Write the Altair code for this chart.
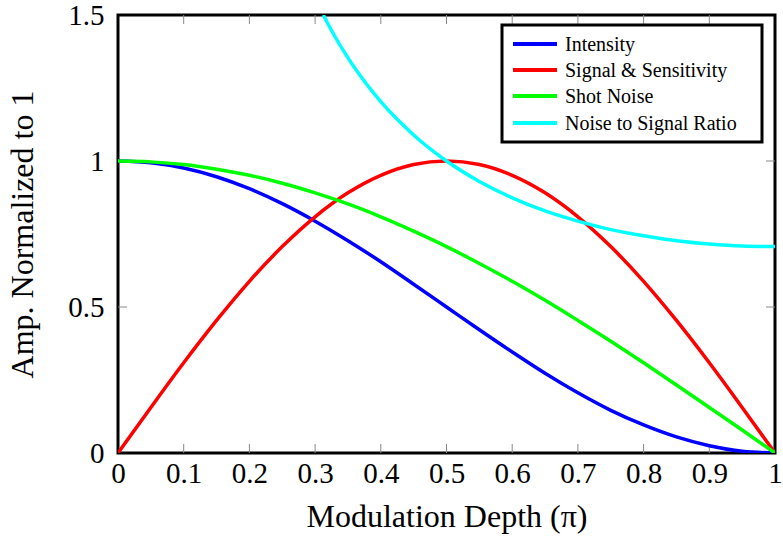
import altair as alt
import pandas as pd

# ---- data ----
x_vals = [0, 0.05, 0.1, 0.15, 0.2, 0.25, 0.3, 0.35, 0.4, 0.45, 0.5,
          0.55, 0.6, 0.65, 0.7, 0.75, 0.8, 0.85, 0.9, 0.95, 1.0]
intensity = [1.0, 0.994, 0.976, 0.946, 0.905, 0.854, 0.794, 0.727, 0.655, 0.578, 0.5,
             0.422, 0.346, 0.273, 0.206, 0.146, 0.096, 0.055, 0.025, 0.006, 0.0]
signal = [0.0, 0.156, 0.309, 0.454, 0.588, 0.707, 0.809, 0.891, 0.951, 0.988, 1.0,
          0.988, 0.951, 0.891, 0.809, 0.707, 0.588, 0.454, 0.309, 0.156, 0.0]
shot_noise = [1.0, 0.997, 0.988, 0.972, 0.951, 0.924, 0.891, 0.853, 0.809, 0.760, 0.707,
              0.649, 0.588, 0.523, 0.454, 0.383, 0.309, 0.233, 0.156, 0.079, 0.0]
nsr_x = [0.3125, 0.325, 0.35, 0.375, 0.4, 0.45, 0.5, 0.55, 0.6, 0.65, 0.7,
         0.75, 0.8, 0.85, 0.9, 0.95, 1.0]
nsr = [1.5, 1.447, 1.353, 1.273, 1.203, 1.089, 1.0, 0.930, 0.874, 0.829, 0.794,
       0.765, 0.744, 0.727, 0.716, 0.709, 0.707]

series_names = ["Intensity", "Signal & Sensitivity", "Shot Noise", "Noise to Signal Ratio"]
series_colors = ["#0000ff", "#ff0000", "#00ff00", "#00ffff"]

x_ticks = [0, 0.1, 0.2, 0.3, 0.4, 0.5, 0.6, 0.7, 0.8, 0.9, 1.0]
y_ticks = [0, 0.5, 1.0, 1.5]

W, H = 657, 438
FONT = "'Liberation Serif', 'DejaVu Serif', serif"

xscale = alt.Scale(domain=[0, 1], nice=False, zero=False)
yscale = alt.Scale(domain=[0, 1.5], nice=False)

x_axis = alt.Axis(values=x_ticks, format=".1~f", ticks=False, domain=False,
                  grid=False, labelFont=FONT, labelFontSize=29,
                  labelPadding=6, labelFlush=False, labelOverlap=False,
                  labelBound=False, labelColor="black",
                  title="Modulation Depth (π)", titleFont=FONT,
                  titleFontSize=32, titleFontWeight="normal",
                  titlePadding=13, titleColor="black")
y_axis = alt.Axis(values=y_ticks, format="~g", ticks=False, domain=False,
                  grid=False, labelFont=FONT, labelFontSize=29,
                  labelPadding=14, labelFlush=False, labelOverlap=False,
                  labelBound=False, labelColor="black",
                  title="Amp. Normalized to 1", titleFont=FONT,
                  titleFontSize=32, titleFontWeight="normal",
                  titlePadding=28, titleColor="black")

series_data = [
    pd.DataFrame({"x": x_vals, "y": intensity}),
    pd.DataFrame({"x": x_vals, "y": signal}),
    pd.DataFrame({"x": x_vals, "y": shot_noise}),
    pd.DataFrame({"x": nsr_x, "y": nsr}),
]

# inward tick marks on all four sides (drawn first, beneath the curves)
inner_x = pd.DataFrame({"x": x_ticks[1:-1]})
inner_y = pd.DataFrame({"y": [0.5, 1.0]})
tick_style = dict(color="#888888", strokeWidth=1)
ticks = [
    alt.Chart(inner_x).mark_rule(**tick_style).encode(
        x=alt.X("x:Q", scale=xscale, axis=x_axis), y=alt.value(H), y2=alt.value(H - 9)),
    alt.Chart(inner_x).mark_rule(**tick_style).encode(
        x=alt.X("x:Q", scale=xscale, axis=x_axis), y=alt.value(0), y2=alt.value(9)),
    alt.Chart(inner_y).mark_rule(**tick_style).encode(
        y=alt.Y("y:Q", scale=yscale, axis=y_axis), x=alt.value(0), x2=alt.value(9)),
    alt.Chart(inner_y).mark_rule(**tick_style).encode(
        y=alt.Y("y:Q", scale=yscale, axis=y_axis), x=alt.value(W - 9), x2=alt.value(W)),
]

layers = []
for df, name, col in zip(series_data, series_names, series_colors):
    layers.append(
        alt.Chart(df).mark_line(color=col, strokeWidth=3.5, interpolate="monotone", clip=True)
        .encode(x=alt.X("x:Q", scale=xscale, axis=x_axis),
                y=alt.Y("y:Q", scale=yscale, axis=y_axis))
    )

# legend box
legend_layers = [
    alt.Chart(pd.DataFrame({"a": [0]})).mark_rect(fill="white", stroke="black", strokeWidth=3)
    .encode(x=alt.value(384), x2=alt.value(644), y=alt.value(10), y2=alt.value(127))
]
row_y = [29, 55, 81, 108]
for name, col, ry in zip(series_names, series_colors, row_y):
    d = pd.DataFrame({"name": [name]})
    legend_layers.append(
        alt.Chart(d).mark_rule(color=col, strokeWidth=4)
        .encode(x=alt.value(395), x2=alt.value(439), y=alt.value(ry))
    )
    legend_layers.append(
        alt.Chart(d).mark_text(align="left", baseline="middle", font=FONT, fontSize=20, color="black")
        .encode(x=alt.value(447), y=alt.value(ry + 1), text="name:N")
    )

chart = alt.layer(*ticks, *layers, *legend_layers).properties(
    width=W, height=H,
    background="white",
    autosize=alt.AutoSizeParams(type="none"),
    padding={"left": 118, "top": 15, "right": 8, "bottom": 91},
).configure_view(stroke="black", strokeWidth=3)

chart.save("out.html", embed_options={"renderer": "svg", "actions": False})
